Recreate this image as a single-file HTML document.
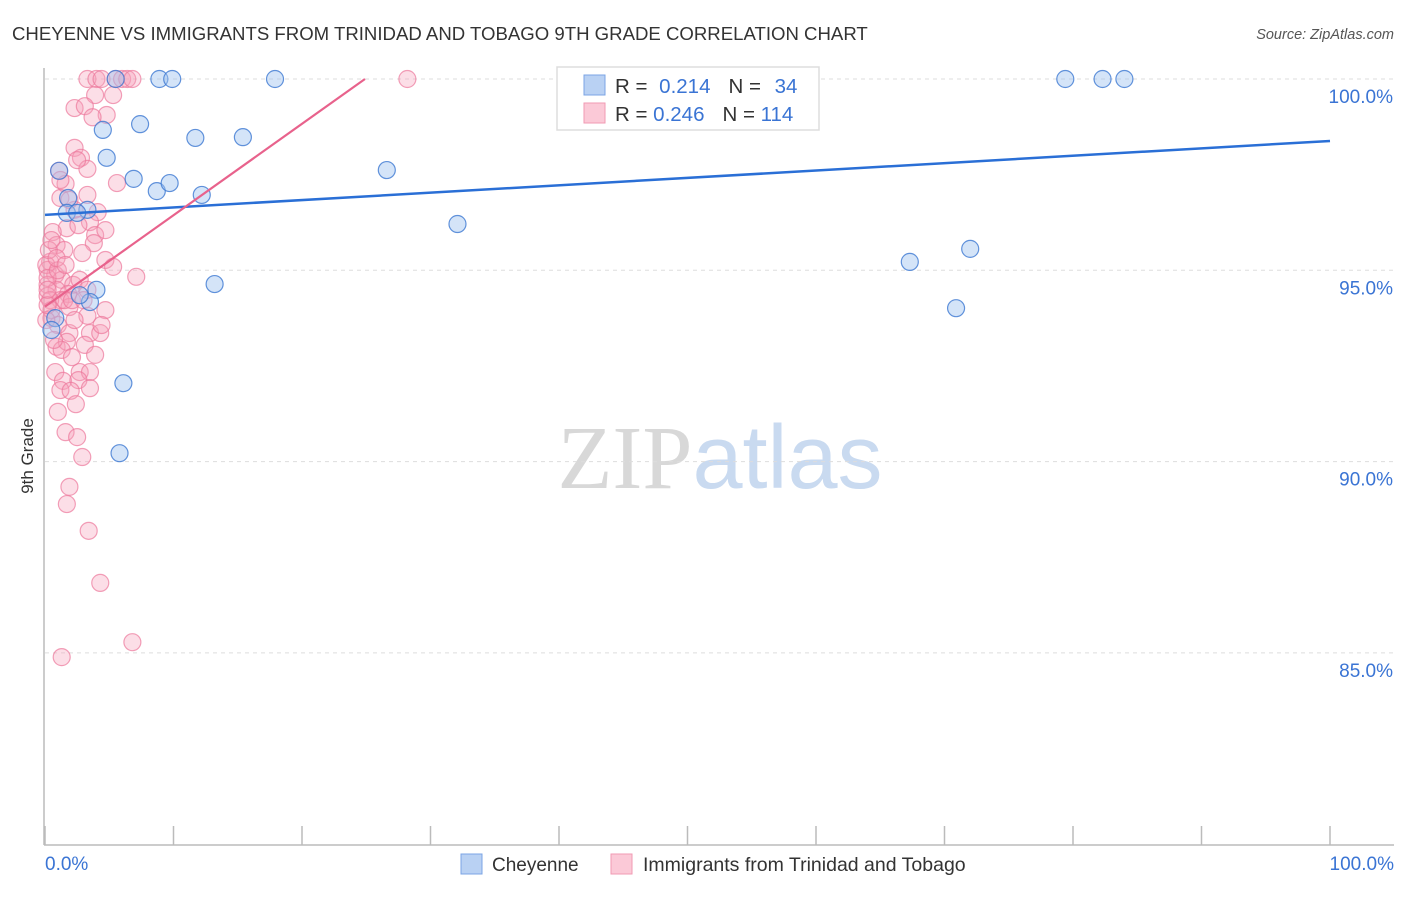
<!DOCTYPE html>
<html><head><meta charset="utf-8"><style>
body{margin:0;background:#fff;font-family:"Liberation Sans",sans-serif;}
svg text{font-family:"Liberation Sans",sans-serif;}
</style></head><body>
<svg id="chart" width="1406" height="892" xmlns="http://www.w3.org/2000/svg">
<text x="12" y="40" font-size="18.6" fill="#333">CHEYENNE VS IMMIGRANTS FROM TRINIDAD AND TOBAGO 9TH GRADE CORRELATION CHART</text>
<text x="1394" y="39" font-size="14.5" fill="#555" font-style="italic" text-anchor="end">Source: ZipAtlas.com</text>
<text x="720" y="488" font-size="90" text-anchor="middle"><tspan fill="#d8d8d8" font-family="Liberation Serif">ZIP</tspan><tspan fill="#c9daf0">atlas</tspan></text>
<g id="grid"></g>
<g id="axes"></g>
<g id="pts"></g>
<g id="lines"></g>
<text transform="translate(33,456) rotate(-90)" font-size="17" fill="#333" text-anchor="middle">9th Grade</text>
<g>
<rect x="557" y="67" width="262" height="63" fill="#fff" stroke="#ddd" stroke-width="1.5"/>
<rect x="584" y="75" width="21" height="20" fill="#b9d1f3" stroke="#7ba4e4"/>
<rect x="584" y="103" width="21" height="20" fill="#fbc9d7" stroke="#f09ab3"/>
<text x="615" y="93" font-size="20.5" fill="#333">R = <tspan fill="#3a74d4" dx="6">0.214</tspan><tspan fill="#333" dx="18">N = </tspan><tspan fill="#3a74d4" dx="8">34</tspan></text>
<text x="615" y="121" font-size="20.5" fill="#333">R = <tspan fill="#3a74d4">0.246</tspan><tspan fill="#333" dx="18">N = </tspan><tspan fill="#3a74d4">114</tspan></text>
</g>
<g>
<rect x="461" y="854" width="21" height="20" fill="#b9d1f3" stroke="#7ba4e4"/>
<text x="492" y="871" font-size="19" fill="#333">Cheyenne</text>
<rect x="611" y="854" width="21" height="20" fill="#fbc9d7" stroke="#f09ab3"/>
<text x="643" y="871" font-size="19.5" fill="#333">Immigrants from Trinidad and Tobago</text>
</g>
</svg>
<script>
const yTicks=[100,95,90,85];
const yTickLabels=["100.0%","95.0%","90.0%","85.0%"];
const xTickLabels=["0.0%","100.0%"];
const blueX=[5.5,8.9,9.9,17.9,79.4,82.3,84.0,4.5,7.4,11.7,15.4,4.8,1.1,6.9,8.7,9.7,12.2,26.6,1.8,1.7,3.3,2.5,32.1,67.3,72.0,13.2,4.0,3.5,0.8,6.1,5.8,70.9,2.7,0.5];
const blueY=[100,100,100,100,100,100,100,98.67,98.82,98.46,98.48,97.94,97.6,97.39,97.07,97.28,96.97,97.62,96.89,96.5,96.58,96.5,96.21,95.22,95.56,94.64,94.49,94.17,93.75,92.05,90.22,94.01,94.35,93.44];
const pinkX=[3.3,4.0,4.4,5.5,6.0,6.4,6.8,28.2,5.3,3.9,2.3,3.1,4.8,3.7,2.3,2.8,1.1,1.6,3.3,2.5,5.6,3.3,1.2,4.1,2.3,3.5,1.7,0.6,2.6,3.9,0.9,3.8,1.5,2.9,4.7,5.3,7.1,0.4,0.2,0.8,1.3,2.2,0.2,0.9,1.8,2.7,3.3,0.2,1.2,1.9,3.3,4.7,0.5,1.0,1.9,3.5,4.3,4.4,0.9,1.7,1.3,2.1,2.7,3.5,0.8,1.4,2.6,1.2,2.0,3.5,2.4,1.0,1.6,2.5,2.9,1.9,1.7,3.4,4.3,6.8,1.3,1.2,1.9,4.7,0.1,0.2,0.4,0.5,0.1,0.7,0.2,1.0,1.5,2.3,3.1,3.9,0.3,0.5,0.9,1.6,2.1,3.0,0.2];
const pinkY=[100,100,100,100,100,100,100,100,99.58,99.58,99.24,99.29,99.06,99.0,98.2,97.94,97.6,97.26,97.65,97.88,97.28,96.97,96.89,96.52,96.58,96.26,96.1,96.0,96.18,95.92,95.66,95.71,95.53,95.45,95.27,95.09,94.83,95.22,95.01,94.88,94.75,94.62,94.62,94.49,94.38,94.75,94.49,94.33,94.22,94.04,93.81,93.96,93.75,93.57,93.36,93.36,93.36,93.57,93.0,93.13,92.92,92.73,92.34,92.34,92.34,92.11,92.13,91.87,91.85,91.92,91.5,91.3,90.77,90.64,90.12,89.34,88.89,88.19,86.83,85.28,84.89,97.36,96.84,96.05,95.14,94.8,94.22,93.96,93.7,93.18,94.09,95.0,94.22,93.7,93.05,92.79,95.53,95.79,95.32,95.14,94.22,94.22,94.49];
const blueTrend=[[0,96.45],[100,98.38]];
const pinkTrend=[[0,94.05],[24.9,100]];
const NS="http://www.w3.org/2000/svg";
const xs=v=>45+v*12.85;
const ys=v=>79+(100-v)*38.26;
function mk(tag,attrs,parent){const e=document.createElementNS(NS,tag);for(const k in attrs)e.setAttribute(k,attrs[k]);document.getElementById(parent).appendChild(e);return e;}
yTicks.forEach((t,i)=>{
  const g=mk('line',{x1:45,x2:1394,y1:ys(t),y2:ys(t),stroke:'#ddd','stroke-dasharray':'4,4'},'grid');
  
  
  const l=mk('text',{x:1393,y:ys(t)+24,'font-size':19,fill:'#3a74d4','text-anchor':'end'},'axes');
  l.textContent=yTickLabels[i];
  
  
});
const ya=mk('line',{x1:44,x2:44,y1:68,y2:845,stroke:'#bbb','stroke-width':1.5},'axes');


const xa=mk('line',{x1:44,x2:1394,y1:845,y2:845,stroke:'#bbb','stroke-width':1.5},'axes');


for(let k=0;k<=10;k++){
  const t=mk('line',{x1:xs(k*10),x2:xs(k*10),y1:826,y2:845,stroke:'#bbb','stroke-width':1.5},'axes');
  
  
}
[[0,'start',45],[100,'end',1394]].forEach((d,i)=>{
  const l=mk('text',{x:d[2],y:870,'font-size':19,fill:'#3a74d4','text-anchor':d[1]},'axes');
  l.textContent=xTickLabels[i];
  
  
});
pinkX.forEach((x,i)=>{
  const c=mk('circle',{cx:xs(x),cy:ys(pinkY[i]),r:8.5,fill:'rgba(246,160,186,0.35)',stroke:'rgba(236,120,155,0.7)','stroke-width':1.2},'pts');
  
  
});
blueX.forEach((x,i)=>{
  const c=mk('circle',{cx:xs(x),cy:ys(blueY[i]),r:8.5,fill:'rgba(160,195,240,0.45)',stroke:'rgba(60,120,210,0.8)','stroke-width':1.2},'pts');
  
  
});
const bl=mk('line',{x1:xs(blueTrend[0][0]),y1:ys(blueTrend[0][1]),x2:xs(blueTrend[1][0]),y2:ys(blueTrend[1][1]),stroke:'#2a6fd6','stroke-width':2.5},'lines');


const pl=mk('line',{x1:xs(pinkTrend[0][0]),y1:ys(pinkTrend[0][1]),x2:xs(pinkTrend[1][0]),y2:ys(pinkTrend[1][1]),stroke:'#e8628c','stroke-width':2.2},'lines');


</script>
</body></html>
